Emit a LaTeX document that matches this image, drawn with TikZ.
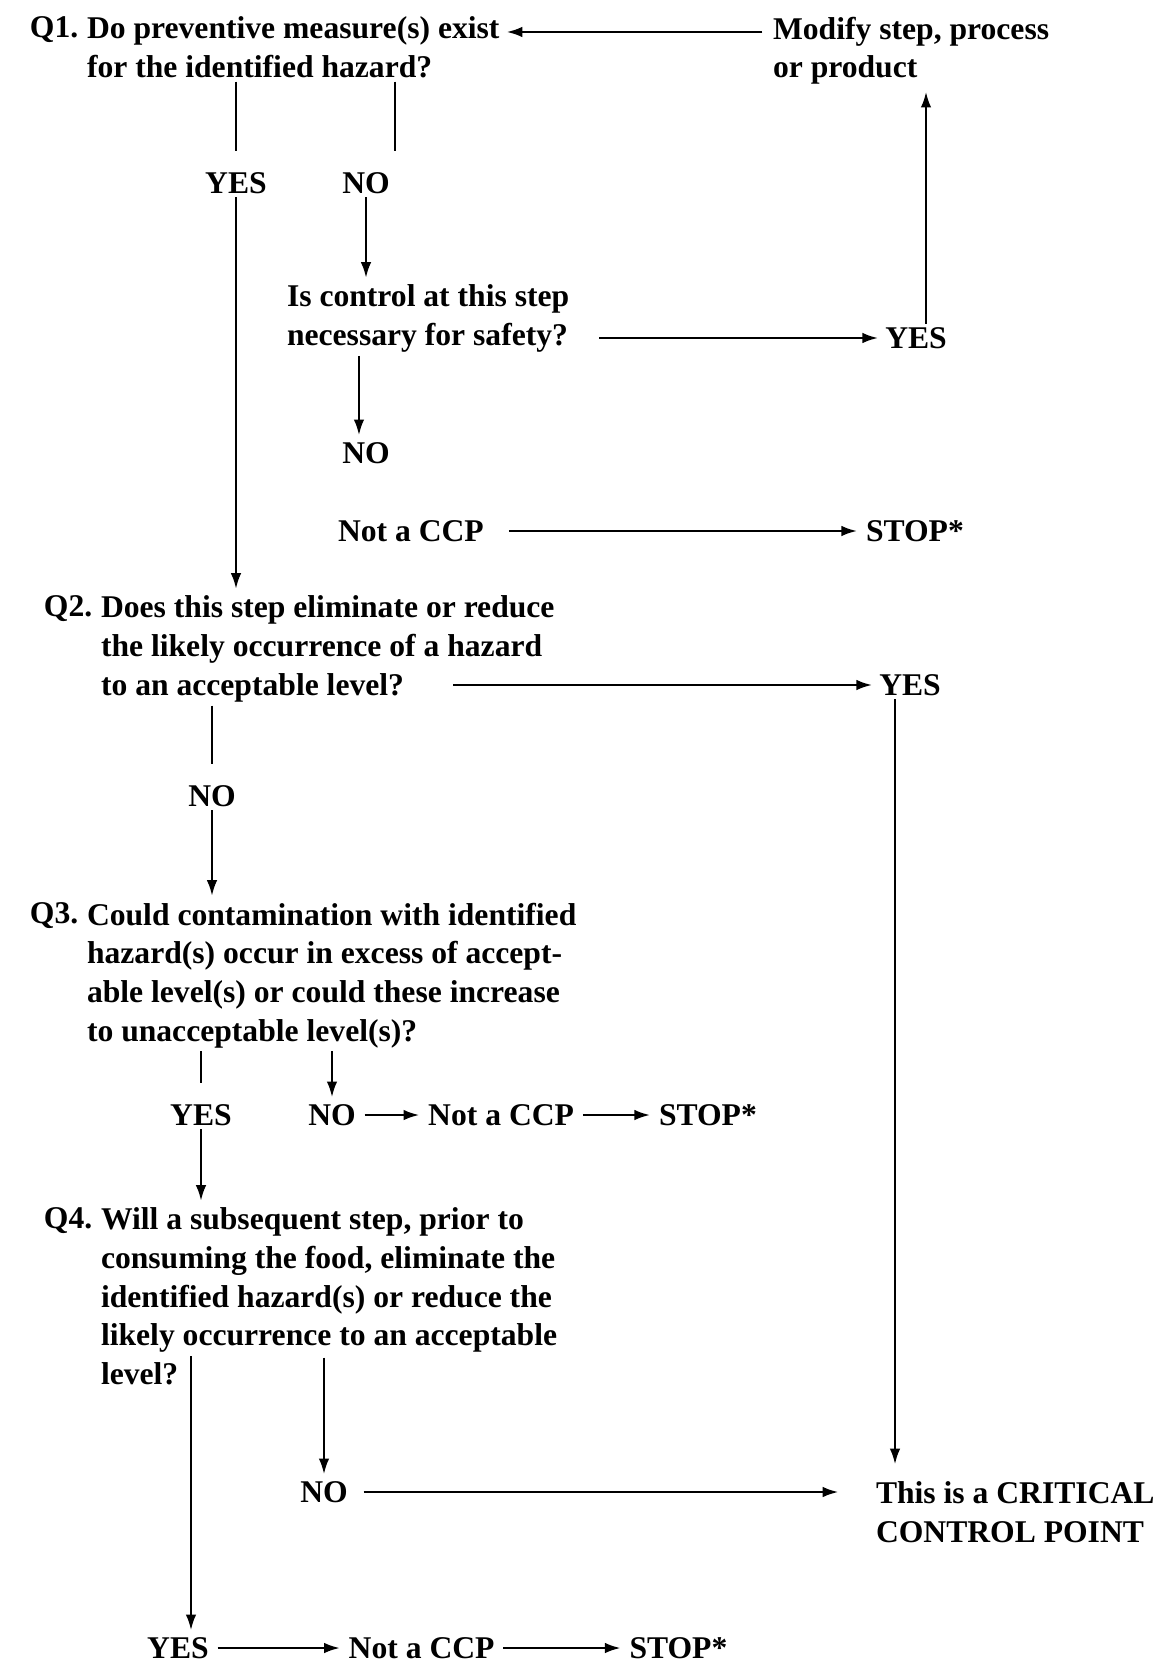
\documentclass[tikz,border=0pt]{standalone}
\usepackage{fontspec}
\setmainfont{Liberation Serif}
\usetikzlibrary{arrows.meta, positioning}

\begin{document}
\begin{tikzpicture}[
  x=0.02cm, y=-0.02cm,
  txt/.style={inner sep=0pt, outer sep=0pt, font=\bfseries\fontsize{18}{22}\selectfont},
  lbl/.style={txt},
  ques/.style={txt, align=left, anchor=north west},
  ln/.style={line width=1.4pt, shorten <=2pt, shorten >=4pt},
  stub/.style={ln, shorten >=12pt},
  arr/.style={ln, -{Latex[length=9pt,width=6pt]}},
  harr/.style={arr, shorten <=5pt, shorten >=5pt},
]
\useasboundingbox (0,0) rectangle (1165,1665);

% Q1 and the loop back to it
\node[ques] (q1) at (87,17) {Do preventive measure(s) exist\\for the identified hazard?};
\node[ques, anchor=north east] (q1num) at ([xshift=-5pt]q1.north west) {Q1.};
\node[ques] (modify) at (773,17) {Modify step, process\\or product};
\node[lbl] (yes1) at (236,183) {YES};
\node[lbl] (no1) at (366,183) {NO};
\node[ques] (isctrl) at (287,285) {Is control at this step\\necessary for safety?};
\node[lbl] (yes2) at (916,338) {YES};
\node[lbl] (no2) at (366,453) {NO};
\node[lbl, anchor=west] (notccp1) at (338,531) {Not a CCP};
\node[lbl, anchor=west] (stop1) at (866,531) {STOP*};

% Q2
\node[ques] (q2) at (101,596) {Does this step eliminate or reduce\\the likely occurrence of a hazard\\to an acceptable level?};
\node[ques, anchor=north east] (q2num) at ([xshift=-5pt]q2.north west) {Q2.};
\node[lbl] (yes3) at (910,685) {YES};
\node[lbl] (no3) at (212,796) {NO};

% Q3
\node[ques] (q3) at (87,903) {Could contamination with identified\\hazard(s) occur in excess of accept-\\able level(s) or could these increase\\to unacceptable level(s)?};
\node[ques, anchor=north east] (q3num) at ([xshift=-5pt]q3.north west) {Q3.};
\node[lbl] (yes4) at (201,1115) {YES};
\node[lbl] (no4) at (332,1115) {NO};
\node[lbl, right=1.45cm of no4] (notccp2) {Not a CCP};
\node[lbl, right=1.7cm of notccp2] (stop2) {STOP*};

% Q4
\node[ques] (q4) at (101,1208) {Will a subsequent step, prior to\\consuming the food, eliminate the\\identified hazard(s) or reduce the\\likely occurrence to an acceptable\\level?};
\node[ques, anchor=north east] (q4num) at ([xshift=-5pt]q4.north west) {Q4.};
\node[lbl] (no5) at (324,1492) {NO};
\node[ques] (ccp) at (876,1482) {This is a CRITICAL\\CONTROL POINT};
\node[lbl] (yes6) at (178,1648) {YES};
\node[lbl, right=2.8cm of yes6] (notccp3) {Not a CCP};
\node[lbl, right=2.7cm of notccp3] (stop3) {STOP*};

\draw[arr, shorten <=6pt] ([yshift=-0.3cm]modify.north west) -- ([yshift=-0.3cm]q1.north east);
\draw[stub] (q1.south -| yes1) -- (yes1);
\draw[stub] ([xshift=3pt]q1.south -| no1.east) -- ([xshift=3pt]no1.north east);
\draw[arr] (yes1) -- (yes1 |- q2.north);
\draw[arr] (no1) -- (no1 |- isctrl.north);
\draw[arr, shorten <=0.6cm] (isctrl.east |- yes2) -- (yes2);
\draw[arr] ([xshift=0.2cm]yes2.north) -- ([xshift=0.2cm]yes2.north |- modify.south);
\draw[arr] ([xshift=-4pt]isctrl.south -| no2) -- ([xshift=-4pt]no2.north);
\draw[harr, shorten <=0.5cm] (notccp1) -- (stop1);

\draw[arr] ([xshift=-2.1cm]q2.east |- yes3) -- (yes3);
\draw[arr, shorten >=10pt] ([xshift=-0.3cm]yes3.south) -- ([xshift=-0.3cm]yes3.south |- ccp.north);
\draw[stub] (q2.south -| no3) -- (no3);
\draw[arr] (no3) -- (no3 |- q3.north);

\draw[stub] (q3.south -| yes4) -- (yes4);
\draw[arr] (q3.south -| no4) -- (no4);
\draw[harr] (no4) -- (notccp2);
\draw[harr] (notccp2) -- (stop2);
\draw[arr] (yes4) -- (yes4 |- q4.north);

\draw[arr] ([yshift=0.62cm]q4.south -| no5) -- (no5);
\draw[harr, shorten <=9pt, shorten >=0.75cm] (no5) -- (no5 -| ccp.west);
\draw[arr] ([xshift=0.26cm,yshift=0.65cm]q4.south -| yes6) -- ([xshift=0.26cm]yes6.north);
\draw[harr] (yes6) -- (notccp3);
\draw[harr] (notccp3) -- (stop3);
\end{tikzpicture}
\end{document}
